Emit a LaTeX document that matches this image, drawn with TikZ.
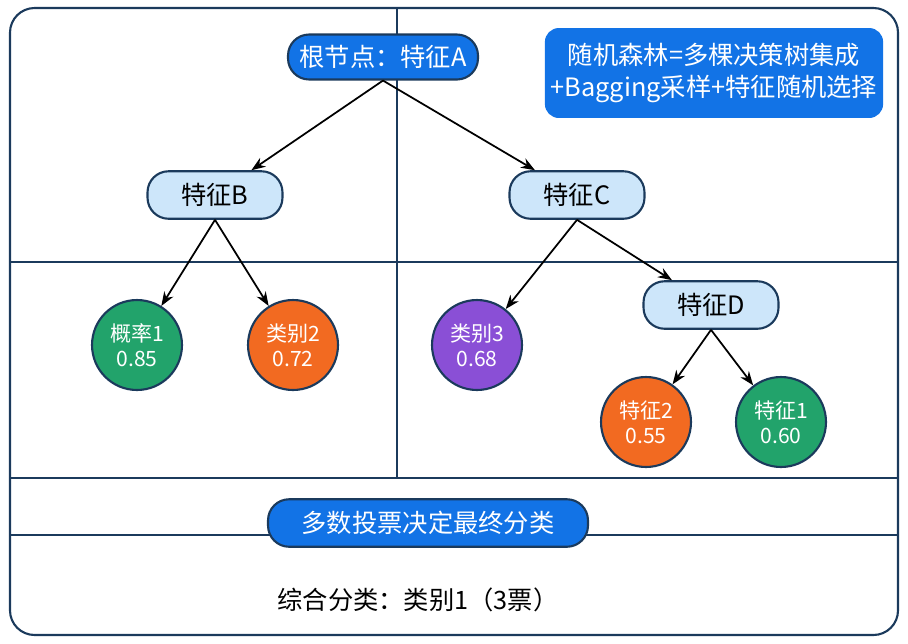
\documentclass[tikz,border=0pt]{standalone}
\usepackage{fontspec}
\setmainfont{Noto Sans CJK SC}
\usetikzlibrary{arrows.meta}
\definecolor{mainblue}{HTML}{1273E6}
\definecolor{lightblue}{HTML}{CDE6FA}
\definecolor{framecol}{HTML}{1B3A5C}
\definecolor{leafgreen}{HTML}{22A36B}
\definecolor{leaforange}{HTML}{F26A21}
\definecolor{leafpurple}{HTML}{8A4FD6}
\tikzset{
  root/.style={rounded corners=12pt,draw=framecol,line width=1.2pt,fill=mainblue,text=white,minimum width=3.8cm,minimum height=0.9cm,font=\Large},
  inner/.style={rounded corners=12pt,draw=framecol,line width=1.2pt,fill=lightblue,minimum width=2.7cm,minimum height=0.95cm,font=\Large},
  leaf/.style={circle,draw=framecol,line width=1.2pt,text=white,minimum size=1.8cm,align=center,font=\large},
  link/.style={-{Stealth[length=8pt]},line width=1pt}
}
\begin{document}
\begin{tikzpicture}[x=0.02cm,y=-0.02cm]
    \useasboundingbox (0,0) rectangle (908,643);
    \draw[framecol,line width=1.2pt,rounded corners=14pt] (10,8) rectangle (898,635);
    \draw[framecol,line width=1.2pt] (397,8) -- (397,478);
    \draw[framecol,line width=1.2pt] (10,262) -- (898,262);
    \draw[framecol,line width=1.2pt] (10,478) -- (898,478);
    \draw[framecol,line width=1.2pt] (10,535) -- (898,535);

    \node[root] (R) at (383,57) {根节点：特征A};
    \node[rounded corners=8pt,fill=mainblue,text=white,align=center,font=\Large,minimum width=6.6cm,minimum height=1.8cm] (I) at (714,73) {随机森林=多棵决策树集成\\+Bagging采样+特征随机选择};
    \node[inner] (B) at (215,195) {特征B};
    \node[inner] (C) at (577,195) {特征C};
    \node[inner] (D) at (711,305) {特征D};
    \node[leaf,fill=leafgreen] (L1) at (137,345) {概率1\\0.85};
    \node[leaf,fill=leaforange] (L2) at (293,345) {类别2\\0.72};
    \node[leaf,fill=leafpurple] (L3) at (477,345) {类别3\\0.68};
    \node[leaf,fill=leaforange] (L4) at (646,422) {特征2\\0.55};
    \node[leaf,fill=leafgreen] (L5) at (781,422) {特征1\\0.60};
    \node[root,minimum width=6.4cm,minimum height=0.95cm] (V) at (428,523) {多数投票决定最终分类};
    \node[font=\Large] (S) at (418,600) {综合分类：类别1（3票）};

    \draw[link] (R.south) -- (B);
    \draw[link] (R.south) -- (C);
    \draw[link] (B.south) -- (L1);
    \draw[link] (B.south) -- (L2);
    \draw[link] (C.south) -- (L3);
    \draw[link] (C.south) -- (D);
    \draw[link] (D.south) -- (L4);
    \draw[link] (D.south) -- (L5);
\end{tikzpicture}
\end{document}
